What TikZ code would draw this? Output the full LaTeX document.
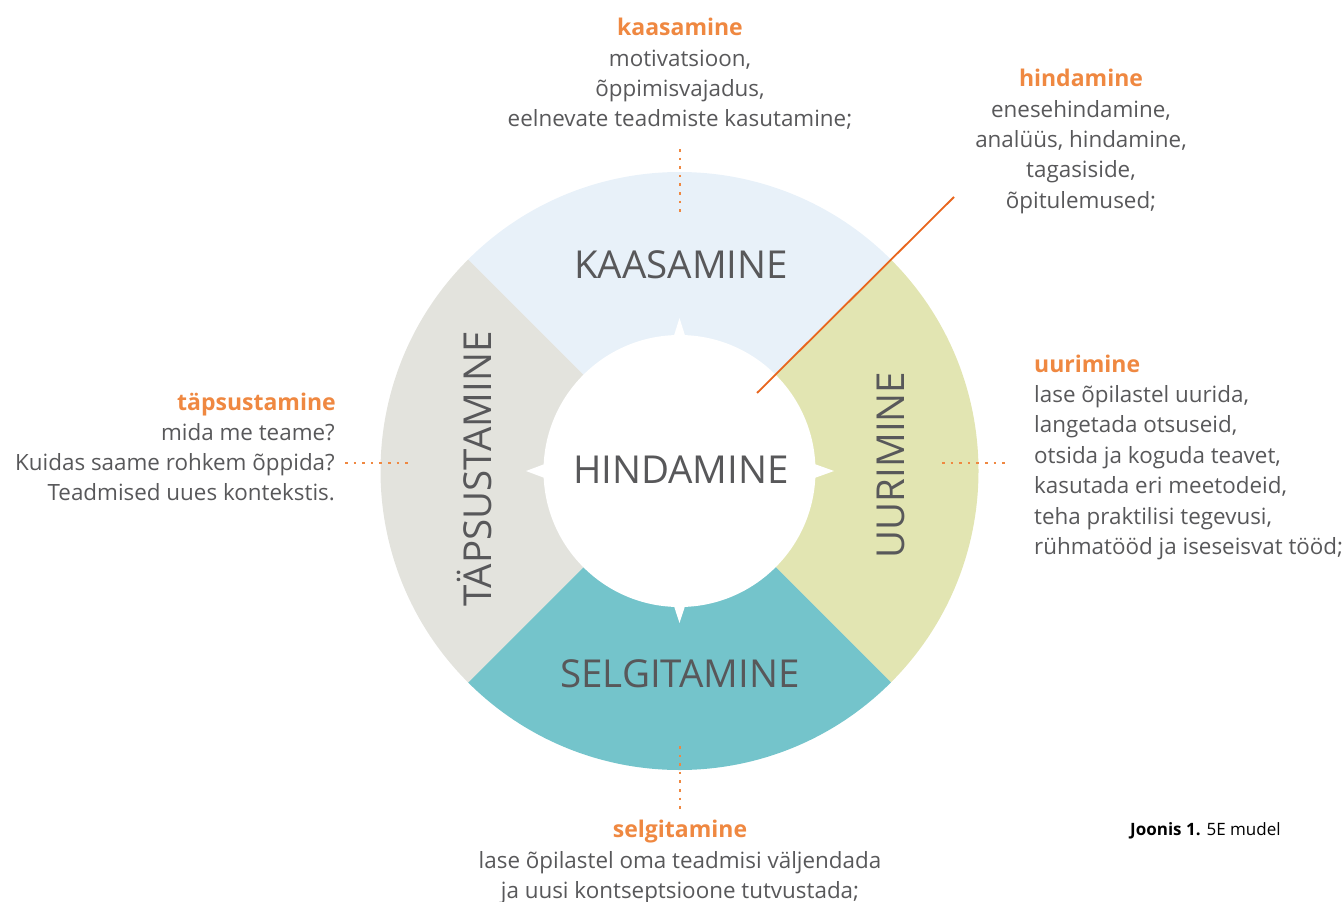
\documentclass[tikz,border=0pt]{standalone}
\usepackage{fontspec}
\setmainfont{Open Sans}
\definecolor{txtgray}{HTML}{58585A}
\definecolor{headorange}{HTML}{EF8841}
\definecolor{lineorange}{HTML}{E8661E}
\definecolor{secblue}{HTML}{E8F1F9}
\definecolor{secgreen}{HTML}{E2E5B2}
\definecolor{secteal}{HTML}{74C4CB}
\definecolor{secgray}{HTML}{E3E3DD}
\begin{document}
\begin{tikzpicture}[x=1pt,y=-1pt,
  body/.style={inner sep=0pt,text=txtgray,font=\fontsize{22.4}{30}\selectfont},
  head/.style={inner sep=0pt,text=headorange,font=\fontsize{23}{30}\selectfont\bfseries},
  ringlbl/.style={inner sep=0pt,text=txtgray,font=\fontsize{38.5}{42}\selectfont},
  dotline/.style={draw=headorange,line width=2.6pt,dash pattern=on 2.6pt off 6pt},
]
\useasboundingbox (0,0) rectangle (1344,902);
\coordinate (c) at (679.5,471);
\def\Rout{299}
\def\Rin{136}
% sectors (y axis points down, so angles are mirrored)
\fill[secblue]  (c) -- ++(225:\Rout) arc[start angle=225,end angle=315,radius=\Rout] -- cycle;
\fill[secgreen] (c) -- ++(-45:\Rout) arc[start angle=-45,end angle=45,radius=\Rout] -- cycle;
\fill[secteal]  (c) -- ++(45:\Rout) arc[start angle=45,end angle=135,radius=\Rout] -- cycle;
\fill[secgray]  (c) -- ++(135:\Rout) arc[start angle=135,end angle=225,radius=\Rout] -- cycle;
% inner circle with pointers
\fill[white] (c) circle[radius=\Rin];
\fill[white] (671,345) -- (679.5,318) -- (688,345) -- cycle;
\fill[white] (671,597) -- (679.5,623) -- (688,597) -- cycle;
\fill[white] (550,462) -- (526,471) -- (550,480) -- cycle;
\fill[white] (809,462) -- (834,471) -- (809,480) -- cycle;
% ring labels
\node[ringlbl,anchor=base] (lk) at (681,278) {KAASAMINE};
\node[ringlbl,anchor=base] (lh) at (681,483) {HINDAMINE};
\node[ringlbl,anchor=base] (ls) at (680,687) {SELGITAMINE};
\node[ringlbl,anchor=base,rotate=90] (lu) at (904,465) {UURIMINE};
\node[ringlbl,anchor=base,rotate=90] (lt) at (491,469) {TÄPSUSTAMINE};
% dotted leaders
\coordinate (dk1) at (680,149); \coordinate (dk2) at (680,216);
\coordinate (ds1) at (680,746); \coordinate (ds2) at (680,812);
\coordinate (dt1) at (345,463); \coordinate (dt2) at (412,463);
\coordinate (du1) at (942,463); \coordinate (du2) at (1009,463);
\draw[dotline] (dk1) -- (dk2);
\draw[dotline] (ds1) -- (ds2);
\draw[dotline] (dt1) -- (dt2);
\draw[dotline] (du1) -- (du2);
% hindamine leader line
\coordinate (hl1) at (757,393); \coordinate (hl2) at (954,197);
\draw[lineorange,line width=1.8pt] (hl1) -- (hl2);
% kaasamine text
\node[head,anchor=base] (k0) at (680,35) {kaasamine};
\node[body,anchor=base] (k1) at (680,66) {motivatsioon,};
\node[body,anchor=base] (k2) at (680,96) {õppimisvajadus,};
\node[body,anchor=base] (k3) at (680,126) {eelnevate teadmiste kasutamine;};
% hindamine text
\node[head,anchor=base] (h0) at (1081,86) {hindamine};
\node[body,anchor=base] (h1) at (1081,117) {enesehindamine,};
\node[body,anchor=base] (h2) at (1081,147) {analüüs, hindamine,};
\node[body,anchor=base] (h3) at (1081,177) {tagasiside,};
\node[body,anchor=base] (h4) at (1081,208) {õpitulemused;};
% uurimine text
\node[head,anchor=base west] (u0) at (1034,372) {uurimine};
\node[body,anchor=base west] (u1) at (1034,402) {lase õpilastel uurida,};
\node[body,anchor=base west] (u2) at (1034,432) {langetada otsuseid,};
\node[body,anchor=base west] (u3) at (1034,463) {otsida ja koguda teavet,};
\node[body,anchor=base west] (u4) at (1034,493) {kasutada eri meetodeid,};
\node[body,anchor=base west] (u5) at (1034,524) {teha praktilisi tegevusi,};
\node[body,anchor=base west] (u6) at (1034,554) {rühmatööd ja iseseisvat tööd;};
% täpsustamine text
\node[head,anchor=base east] (t0) at (336,410) {täpsustamine};
\node[body,anchor=base east] (t1) at (335,440) {mida me teame?};
\node[body,anchor=base east] (t2) at (335,470) {Kuidas saame rohkem õppida?};
\node[body,anchor=base east] (t3) at (335,500) {Teadmised uues kontekstis.};
% selgitamine text
\node[head,anchor=base] (s0) at (680,837) {selgitamine};
\node[body,anchor=base] (s1) at (680,868) {lase õpilastel oma teadmisi väljendada};
\node[body,anchor=base] (s2) at (680,898) {ja uusi kontseptsioone tutvustada;};
% caption
\node[inner sep=0pt,anchor=base west,font=\fontsize{17}{20}\selectfont,text=black] (cap) at (1130,835) {\textbf{Joonis 1.} 5E mudel};
\end{tikzpicture}
\end{document}
